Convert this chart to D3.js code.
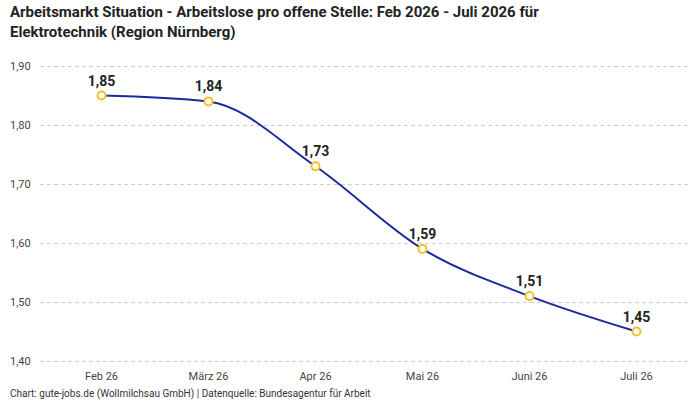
<!DOCTYPE html>
<html><head><meta charset="utf-8">
<script src="https://cdn.jsdelivr.net/npm/d3@7"></script>
<style>
body{margin:0;background:#fff;font-family:Roboto,"Noto Sans",sans-serif;}
.grid line{stroke:#ccc;stroke-dasharray:4,3;}
.grid path{display:none;}
</style></head>
<body><div id="visualization"></div>
<script>
const months = ["Feb 26", "März 26", "Apr 26", "Mai 26", "Juni 26", "Juli 26"];
const values = [1.85, 1.84, 1.73, 1.59, 1.51, 1.45];
const yTicks = [1.4, 1.5, 1.6, 1.7, 1.8, 1.9];

render();

function render() {
  var width = 700, height = 400;
  var svg = d3.select('#visualization').append('svg')
              .attr('width', width).attr('height', height);

  var x = d3.scalePoint().domain(months).range([48, 690]).padding(0.5);
  var y = d3.scaleLinear().domain([1.4, 1.9]).range([361, 66]);
  var fmt = d => d.toFixed(2).replace('.', ',');

  // Title
  svg.append('text').attr('x', 10).attr('y', 17)
     .attr('font-size', 15).attr('font-weight', 'bold').attr('fill', '#222')
     .selectAll('tspan')
     .data(['Arbeitsmarkt Situation - Arbeitslose pro offene Stelle: Feb 2026 - Juli 2026 für', 'Elektrotechnik (Region Nürnberg)'])
     .enter().append('tspan').attr('x', 10).attr('dy', (d, i) => i ? 20 : 0).text(d => d);

  svg.append('g').attr('class', 'grid')
     .attr('transform', 'translate(40,0)')
     .call(d3.axisLeft(y).tickValues(yTicks).tickSize(-650).tickFormat(''));

  yTicks.forEach(t => {
    svg.append('text').attr('x', 10).attr('y', y(t) + 4)
       .attr('font-size', 11).attr('fill', '#444').text(fmt(t));
  });

  months.forEach(m => {
    svg.append('text').attr('x', x(m)).attr('y', 380).attr('text-anchor', 'middle')
       .attr('font-size', 11).attr('fill', '#444').text(m);
  });

  var line = d3.line().x((d, i) => x(months[i])).y(d => y(d)).curve(d3.curveMonotoneX);
  svg.append('path').datum(values).attr('d', line)
     .attr('fill', 'none').attr('stroke', '#1a2a9c').attr('stroke-width', 2);

  svg.selectAll('.pt').data(values).enter().append('circle')
     .attr('cx', (d, i) => x(months[i])).attr('cy', d => y(d)).attr('r', 4)
     .attr('fill', '#fff').attr('stroke', '#f5c02a').attr('stroke-width', 2);

  svg.selectAll('.lbl').data(values).enter().append('text')
     .attr('x', (d, i) => x(months[i])).attr('y', d => y(d) - 10)
     .attr('text-anchor', 'middle').attr('font-size', 14).attr('font-weight', 'bold')
     .attr('fill', '#222').text(fmt);

  svg.append('text').attr('x', 10).attr('y', 397).attr('font-size', 10).attr('fill', '#333')
     .text('Chart: gute-jobs.de (Wollmilchsau GmbH) | Datenquelle: Bundesagentur für Arbeit');
}
</script></body></html>
